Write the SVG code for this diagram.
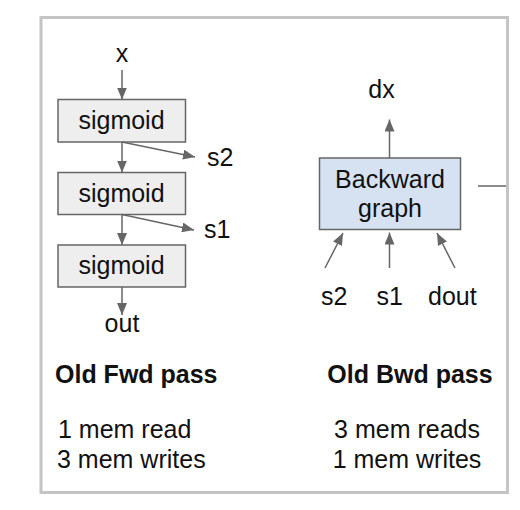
<svg xmlns="http://www.w3.org/2000/svg" width="520" height="510" viewBox="0 0 520 510">
<style>
text{font-family:"Liberation Sans",Arial,sans-serif;font-size:25px;fill:#111}
.b{font-weight:bold}
.m{text-anchor:middle}
.sig{fill:#eeeeee;stroke:#666;stroke-width:1.5}
.bwd{fill:#d6e2f2;stroke:#666;stroke-width:1.5}
.c line{stroke:#666;stroke-width:1.5}
</style>
<defs>
<marker id="ah" viewBox="0 0 12 10" refX="12" refY="5" markerWidth="12" markerHeight="10" markerUnits="userSpaceOnUse" orient="auto">
<path d="M0,0L12,5L0,10z" fill="#666"/>
</marker>
</defs>
<rect x="41" y="17.5" width="466.5" height="475" fill="#fff" stroke="#c4c4c4" stroke-width="3"/>
<g id="sig1"><rect class="sig" x="58" y="99.5" width="127.5" height="42.5"/><text class="m" x="121.5" y="129">sigmoid</text></g>
<g id="sig2"><rect class="sig" x="58" y="172.5" width="127.5" height="42"/><text class="m" x="121.5" y="202">sigmoid</text></g>
<g id="sig3"><rect class="sig" x="58" y="245" width="127.5" height="42"/><text class="m" x="121.5" y="274">sigmoid</text></g>
<g id="bwd"><rect class="bwd" x="319.5" y="158" width="141" height="71.5"/><text class="m" x="390" y="188">Backward</text><text class="m" x="390" y="217">graph</text></g>
<g id="labels">
<text class="m" x="122" y="62">x</text>
<text x="207" y="166">s2</text>
<text x="204" y="238">s1</text>
<text class="m" x="122" y="332">out</text>
<text class="m" x="381.5" y="98">dx</text>
<text x="321" y="305">s2</text>
<text x="376.5" y="305">s1</text>
<text x="428" y="305">dout</text>
<text class="b" x="55" y="383">Old Fwd pass</text>
<text x="58" y="438">1 mem read</text>
<text x="57" y="468">3 mem writes</text>
<text class="b m" x="410" y="383">Old Bwd pass</text>
<text class="m" x="407" y="438">3 mem reads</text>
<text class="m" x="407" y="468">1 mem writes</text>
</g>
<g class="c" id="connectors">
<line x1="122" y1="70" x2="122" y2="99.5" marker-end="url(#ah)"/>
<line x1="122" y1="142" x2="122" y2="172.5" marker-end="url(#ah)"/>
<line x1="122" y1="142" x2="195" y2="157" marker-end="url(#ah)"/>
<line x1="122" y1="214.5" x2="122" y2="245" marker-end="url(#ah)"/>
<line x1="122" y1="214.5" x2="194" y2="230" marker-end="url(#ah)"/>
<line x1="122" y1="287" x2="122" y2="315" marker-end="url(#ah)"/>
<line x1="389.5" y1="158" x2="389.5" y2="119.5" marker-end="url(#ah)"/>
<line x1="325" y1="268" x2="343" y2="233" marker-end="url(#ah)"/>
<line x1="389.5" y1="268" x2="389.5" y2="232.5" marker-end="url(#ah)"/>
<line x1="455" y1="268" x2="437" y2="233" marker-end="url(#ah)"/>
<line x1="478" y1="186" x2="506" y2="186"/>
</g>
</svg>
